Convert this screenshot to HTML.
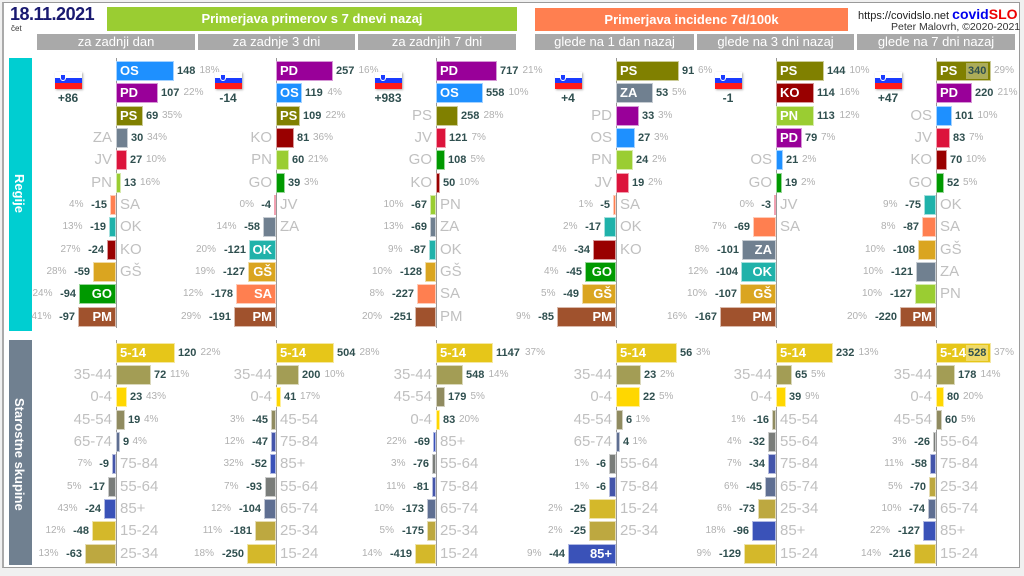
<!DOCTYPE html>
<html><head><meta charset="utf-8">
<style>
*{margin:0;padding:0;box-sizing:border-box}
body{width:1024px;height:576px;position:relative;background:#f0f0f0;font-family:"Liberation Sans",sans-serif;overflow:hidden}
#frame{position:absolute;left:2px;top:2px;width:1018px;height:566px;background:#fff;border:1px solid #9a9a9a;border-left:2px solid #aaa}
.a{position:absolute;white-space:nowrap}
.bar{position:absolute;height:20px;border:1px solid rgba(255,255,255,.6)}
.in{position:absolute;color:#fff;font-weight:bold;font-size:13px;line-height:20px;height:20px;white-space:nowrap}
.val{position:absolute;color:#2f4f4f;font-weight:bold;font-size:11px;line-height:20px;height:20px;white-space:nowrap}
.pct{position:absolute;color:#b0b0b0;font-size:10px;line-height:20px;height:20px;white-space:nowrap}
.lab{position:absolute;color:#c0c0c0;font-size:15px;line-height:20px;height:20px;white-space:nowrap}
.sub{position:absolute;top:34px;height:16px;background:#a9a9a9;color:#fff;font-size:13px;line-height:16px;text-align:center}
.vl{position:absolute;width:1px;background:#999}
.flag{position:absolute;width:27px;height:17px;box-shadow:1px 1px 2px #aaa}
.flag div{height:33.3%}
.fd{position:absolute;width:60px;text-align:center;font-size:12px;color:#2f4f4f;font-weight:bold}
</style></head><body>
<div id="frame"></div>
<div class="a" style="left:10px;top:4px;font-size:18px;font-weight:bold;color:#191970;letter-spacing:-0.5px">18.11.2021</div>
<div class="a" style="left:11px;top:24px;font-size:8px;color:#333">čet</div>
<div class="a" style="left:107px;top:7px;width:410px;height:24px;background:#9acd32;color:#fff;font-weight:bold;font-size:13px;line-height:24px;text-align:center">Primerjava primerov s 7 dnevi nazaj</div>
<div class="a" style="left:535px;top:8px;width:313px;height:23px;background:#ff7f50;color:#fff;font-weight:bold;font-size:13px;line-height:23px;text-align:center">Primerjava incidenc 7d/100k</div>
<div class="a" style="left:858px;top:6px;font-size:11px;color:#222">https://covidslo.net <b style="font-size:14px;color:#0000ee">covid<span style="color:#ee0000">SLO</span></b></div>
<div class="a" style="left:891px;top:21px;font-size:10.5px;color:#333">Peter Malovrh, ©2020-2021</div>
<div class="sub" style="left:37px;width:158px">za zadnji dan</div>
<div class="sub" style="left:198px;width:157px">za zadnje 3 dni</div>
<div class="sub" style="left:358px;width:158px">za zadnjih 7 dni</div>
<div class="sub" style="left:535px;width:159px">glede na 1 dan nazaj</div>
<div class="sub" style="left:697px;width:157px">glede na 3 dni nazaj</div>
<div class="sub" style="left:857px;width:158px">glede na 7 dni nazaj</div>
<div class="a" style="left:9px;top:58px;width:23px;height:273px;background:#00ced1"></div>
<div class="a" style="left:9px;top:340px;width:23px;height:225px;background:#708090"></div>
<div class="a" style="left:12px;top:174px;writing-mode:vertical-rl;color:#fff;font-weight:bold;font-size:13px">Regije</div>
<div class="a" style="left:12px;top:398px;writing-mode:vertical-rl;color:#fff;font-weight:bold;font-size:13px">Starostne skupine</div>
<div id="c"></div>
<script>
var RC={OS:'#1e90ff',PD:'#990099',PS:'#808000',ZA:'#708090',JV:'#dc143c',PN:'#9acd32',SA:'#ff7f50',OK:'#20b2aa',KO:'#990000','GŠ':'#daa520',GO:'#009900',PM:'#a0522d',
'5-14':'#e6c619','35-44':'#a39d55','0-4':'#ffd700','45-54':'#908b60','65-74':'#5f6f92','75-84':'#4455aa','55-64':'#7a7d7a','85+':'#3a52b8','15-24':'#d4b82a','25-34':'#bda840'};
var base=[116,276,436,616,776,936];
var flags=['+86','-14','+983','+4','-1','+47'];
var R=[
[.39,'OS 148 18|PD 107 22|PS 69 35|ZA 30 34|JV 27 10|PN 13 16|SA -15 4|OK -19 13|KO -24 27|GŠ -59 28|GO -94 24|PM -97 41'],
[.222,'PD 257 16|OS 119 4|PS 109 22|KO 81 36|PN 60 21|GO 39 3|JV -4 0|ZA -58 14|OK -121 20|GŠ -127 19|SA -178 12|PM -191 29'],
[.085,'PD 717 21|OS 558 10|PS 258 28|JV 121 7|GO 108 5|KO 50 10|PN -67 10|ZA -69 13|OK -87 9|GŠ -128 10|SA -227 8|PM -251 20'],
[.69,'PS 91 6|ZA 53 5|PD 33 3|OS 27 3|PN 24 2|JV 19 2|SA -5 1|OK -17 2|KO -34 4|GO -45 4|GŠ -49 5|PM -85 9'],
[.333,'PS 144 10|KO 114 16|PN 113 12|PD 79 7|OS 21 2|GO 19 2|JV -3 0|SA -69 7|ZA -101 8|OK -104 12|GŠ -107 10|PM -167 16'],
[.163,'PS 340 29 X|PD 220 21|OS 101 10|JV 83 7|KO 70 10|GO 52 5|OK -75 9|SA -87 8|GŠ -108 10|ZA -121 10|PN -127 10|PM -220 20']];
var A=[
[.49,'5-14 120 22|35-44 72 11|0-4 23 43|45-54 19 4|65-74 9 4|75-84 -9 7|55-64 -17 5|85+ -24 43|15-24 -48 12|25-34 -63 13'],
[.115,'5-14 504 28|35-44 200 10|0-4 41 17|45-54 -45 3|75-84 -47 12|85+ -52 32|55-64 -93 7|65-74 -104 12|25-34 -181 11|15-24 -250 18'],
[.05,'5-14 1147 37|35-44 548 14|45-54 179 5|0-4 83 20|85+ -69 22|55-64 -76 3|75-84 -81 11|65-74 -173 10|25-34 -175 5|15-24 -419 14'],
[1.09,'5-14 56 3|35-44 23 2|0-4 22 5|45-54 6 1|65-74 4 1|55-64 -6 1|75-84 -6 1|15-24 -25 2|25-34 -25 2|85+ -44 9'],
[.245,'5-14 232 13|35-44 65 5|0-4 39 9|45-54 -16 1|55-64 -32 4|75-84 -34 7|65-74 -45 6|25-34 -73 6|85+ -96 18|15-24 -129 9'],
[.104,'5-14 528 37 X|35-44 178 14|0-4 80 20|45-54 60 5|55-64 -26 3|75-84 -58 11|25-34 -70 5|65-74 -74 10|85+ -127 22|15-24 -216 14']];
var h='';
function el(c,s,t){h+='<div class="'+c+'" style="'+s+'">'+(t||'')+'</div>';}
function sec(data,y0,p){
 var b=base[p],sc=data[0],rows=data[1].split('|');
 rows.forEach(function(r,i){
  var f=r.split(' '),L=f[0],v=+f[1],pc=f[2]+'%',X=f[3];
  var y=y0+i*22.33,w=Math.max(2,Math.round(Math.abs(v)*sc));
  var inside=w>=L.length*9+6;
  if(v>=0){
   el('bar','left:'+b+'px;top:'+y+'px;width:'+w+'px;background:'+RC[L]);
   if(inside)el('in','left:'+(b+4)+'px;top:'+y+'px',L);
   else el('lab','right:'+(1024-b+4)+'px;top:'+y+'px',L);
   if(X){el('val','left:'+(b+w-25)+'px;top:'+(y+2)+'px;height:16px;line-height:16px;padding:0 2px;background:rgba(255,255,255,.35)',f[1]);
     el('pct','left:'+(b+w+3)+'px;top:'+y+'px',pc);}
   else{el('val','left:'+(b+w+3)+'px;top:'+y+'px',f[1]);
     el('pct','left:'+(b+w+6+f[1].length*6.5)+'px;top:'+y+'px',pc);}
  }else{
   el('bar','left:'+(b-w)+'px;top:'+y+'px;width:'+w+'px;background:'+RC[L]);
   if(inside)el('in','right:'+(1024-b+4)+'px;top:'+y+'px',L);
   else el('lab','left:'+(b+4)+'px;top:'+y+'px',L);
   var r0=1024-(b-w)+3;
   el('val','right:'+r0+'px;top:'+y+'px',f[1]);
   el('pct','right:'+(r0+4+f[1].length*6.5)+'px;top:'+y+'px',pc);
  }
 });
}
for(var p=0;p<6;p++){
 var b=base[p];
 el('vl','left:'+b+'px;top:58px;height:270px');
 el('vl','left:'+b+'px;top:340px;height:226px');
 sec(R[p],61,p);sec(A[p],342.7,p);
 var fx=b-61;
 h+='<div class="flag" style="left:'+fx+'px;top:72px"><div style="background:#fff"></div><div style="background:#1a3cff"></div><div style="background:#ff1a1a"></div><span style="position:absolute;left:5px;top:2px;width:6px;height:7px;background:#1a3cff;border:1px solid #fff;border-radius:0 0 3px 3px"></span></div>';
 el('fd','left:'+(fx-17)+'px;top:91px',flags[p]);
}
document.getElementById('c').innerHTML=h;
</script>
</body></html>
